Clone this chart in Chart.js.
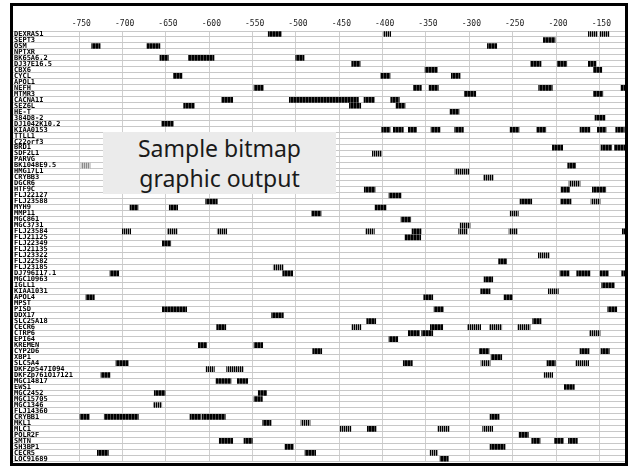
<!DOCTYPE html>
<html>
<head>
<meta charset="utf-8">
<script src="https://cdn.jsdelivr.net/npm/chart.js@4"></script>
<style>
  html, body { margin: 0; padding: 0; background: #fff; overflow: hidden; }
  #wrap { position: relative; width: 633px; height: 467px; }
  #frame {
    position: absolute; left: 10px; top: 3px; width: 618px; height: 463px;
    box-sizing: border-box; border: 3px solid #000; pointer-events: none;
  }
  #note {
    position: absolute; left: 103px; top: 132px; width: 233px; height: 62px;
    background: #ebebeb; color: #1a1a1a; text-align: center;
    font: 23px/30px "Noto Sans", sans-serif; padding-top: 1px; box-sizing: border-box;
  }
</style>
</head>
<body>
<div id="wrap">
  <canvas id="bitmapChart" width="633" height="467"></canvas>
  <div id="note">Sample bitmap<br>graphic output</div>
  <div id="frame"></div>
</div>
<script>
// rows (genes), top to bottom
const rowLabels = [
  "DEXRAS1", "SEPT3", "OSM", "NPTXR", "BK65A6.2", "DJ37E16.5", "CBX6", "CYCL",
  "APOL1", "NEFH", "MTMR3", "CACNA1I", "SEZ6L", "HE-T", "384D8-2", "DJ1042K10.2",
  "KIAA0153", "TTLL1", "C22orf3", "BRD1", "SDF2L1", "PARVG", "BK1048E9.5", "HMG17L1",
  "CRYBB3", "DGCR6", "HTF9C", "FLJ22127", "FLJ23588", "MYH9", "MMP11", "MGC861",
  "MGC3731", "FLJ23584", "FLJ21125", "FLJ22349", "FLJ21135", "FLJ23322", "FLJ22582", "FLJ23185",
  "DJ796I17.1", "MGC10963", "IGLL1", "KIAA1031", "APOL4", "MPST", "PISD", "DDX17",
  "SLC25A18", "CECR6", "CTRP6", "EPI64", "KREMEN", "CYP2D6", "XBP1", "SLC5A4",
  "DKFZp547I094", "DKFZp761O17121", "MGC14817", "EWS1", "MGC2452", "MGC15705", "MGC1346", "FLJ14360",
  "CRYBB1", "MKL1", "MLC1", "POLR2F", "SMTN", "SH3BP1", "CECR5", "LOC91689"
];

const tickValues = [-750, -700, -650, -600, -550, -500, -450, -400, -350, -300, -250, -200, -150];

// [row, from, to]
const solidMarks = [
  [0, -532, -517], [1, -214.6, -201.1],
  [2, -735.7, -726], [2, -672, -657], [2, -279.2, -268.4],
  [4, -657, -647.3], [4, -624.2, -594.6], [4, -500.3, -490.7],
  [5, -435.7, -426], [5, -229.2, -217.3], [5, -198.5, -187.6], [5, -162.7, -153.8],
  [6, -351.1, -336.9], [6, -156.9, -147.2],
  [7, -641.5, -631.5], [7, -402.2, -391.5], [7, -320.8, -310.7],
  [9, -548.4, -537.7], [9, -364.6, -355.4], [9, -346.5, -335.8], [9, -220, -204.3], [9, -125, -114.6],
  [10, -305.8, -292.6], [10, -156.9, -146],
  [11, -585.7, -573], [11, -507.7, -428], [11, -421.5, -409.6], [11, -390.7, -380.8],
  [12, -629.6, -617.3], [12, -438.4, -425.3], [12, -384.6, -374.2],
  [13, -322.3, -311.9], [14, -155, -143.5], [15, -654.9, -641.5],
  [16, -401.1, -391.5], [16, -387.7, -376.2], [16, -370.4, -360.8], [16, -344.2, -333.8],
  [16, -316.9, -306.9], [16, -253, -242.7], [16, -222.2, -211.8], [16, -172.3, -160.9],
  [16, -152.3, -142.3], [16, -131.1, -121.2],
  [19, -204.2, -192.3], [19, -148.1, -135.7], [19, -132.7, -118.4],
  [22, -186.5, -177.3],
  [26, -421.2, -408.8], [26, -194.2, -184.2], [26, -158.1, -142.6],
  [27, -392.7, -378.8],
  [28, -604.2, -590.8], [28, -241.5, -228], [28, -194.6, -182.7],
  [29, -691.5, -682.3], [29, -646.2, -636.5], [29, -408.8, -396.1],
  [30, -481.9, -471.1], [31, -378.8, -367.6],
  [33, -366.1, -355.8], [33, -123.5, -118.4],
  [34, -374.2, -356.1], [35, -654.2, -644.5], [38, -266.2, -256.9],
  [40, -714.6, -704.5], [40, -515.3, -503.8], [40, -195.4, -184.9], [40, -176.1, -160.8],
  [40, -149.2, -139.6], [40, -124.2, -114.6],
  [41, -283, -273], [42, -147.3, -132.7], [43, -286.9, -276.1],
  [44, -742.3, -732.7], [44, -352.6, -342.2], [44, -260, -250.4],
  [46, -654.2, -626.1], [46, -340.7, -330], [46, -140.3, -129.9],
  [47, -528.1, -514.6], [48, -418.4, -408], [48, -226.9, -217.3],
  [49, -591.5, -581], [49, -345, -330.7],
  [50, -370.4, -357.5], [50, -355, -342.2], [51, -392.7, -382.6],
  [52, -612.7, -603], [52, -548.4, -538.4],
  [53, -480.7, -470.3], [53, -288.5, -277.3], [53, -172.3, -161.9], [53, -148.1, -138.5],
  [54, -274.9, -262.6],
  [55, -707.7, -693.5], [55, -376.2, -365.8], [55, -210.4, -200.8],
  [57, -725, -714.6], [58, -592.3, -575], [58, -567.7, -555.7],
  [59, -190.4, -178.9], [60, -663.5, -651.1], [60, -543.5, -533.8], [61, -548.4, -538.8],
  [64, -749.2, -738.5], [64, -721.2, -681.9], [64, -622.3, -609.6], [64, -608.1, -581.6], [64, -276.1, -265.7],
  [65, -538.4, -528.8], [66, -417.7, -407.7], [67, -242.6, -231.9],
  [68, -588.5, -573], [68, -560, -550.4], [68, -228, -218.4], [68, -201.9, -191.5], [68, -185.7, -175.4],
  [69, -512.7, -503.1], [69, -276.1, -258.8],
  [70, -729.2, -716.5], [70, -489.6, -477.3], [71, -333.8, -324.3]
];

const stripedMarks = [
  [0, -399.2, -390.7], [0, -162.7, -152.3], [0, -149.2, -138.8],
  [20, -411.9, -401.1], [23, -316.5, -300], [24, -283.8, -272.3], [25, -185, -172.3],
  [28, -159.6, -149.2], [30, -253, -243.5], [32, -310.7, -299.2],
  [33, -700.4, -690.7], [33, -648.5, -637], [33, -590.8, -579.9], [33, -419.6, -409.6],
  [33, -312.3, -302.3], [33, -254.2, -244.6],
  [37, -220.4, -207.7], [39, -526.2, -514.6], [43, -208.9, -197.3],
  [49, -435.7, -425], [49, -302.3, -286.9], [49, -276.9, -262.6], [49, -244.2, -230],
  [50, -161.5, -149.2], [55, -286.5, -276.1], [55, -177.3, -162.3],
  [56, -603.8, -594.2], [56, -580, -560.8], [57, -213.8, -203.8], [62, -664.6, -654.9],
  [65, -494.2, -483.8], [66, -449.2, -436.5], [66, -336.5, -323.1], [66, -284.6, -273],
  [70, -345.4, -336.5]
];

const paleMarks = [
  [22, -748, -737.6]
];

// vertical-line fill, like the bitmap's stacked hit lines
function stripes(colors) {
  const c = document.createElement("canvas");
  c.width = colors.length;
  c.height = 1;
  const g = c.getContext("2d");
  colors.forEach((col, i) => {
    g.fillStyle = col;
    g.fillRect(i, 0, 1, 1);
  });
  return g.createPattern(c, "repeat");
}

const toPoints = (marks) => marks.map(([row, from, to]) => ({ y: rowLabels[row], x: [from, to] }));

const monoFont = '"DejaVu Sans Mono", monospace';

const ctx = document.getElementById("bitmapChart").getContext("2d");
new Chart(ctx, {
  type: "bar",
  data: {
    labels: rowLabels,
    datasets: [
      { data: toPoints(solidMarks), backgroundColor: stripes(["#000", "#000", "#444"]) },
      { data: toPoints(stripedMarks), backgroundColor: stripes(["#000", "#999"]) },
      { data: toPoints(paleMarks), backgroundColor: stripes(["#8a8a8a", "#cfcfcf"]) },
    ],
  },
  options: {
    indexAxis: "y",
    responsive: false,
    animation: false,
    grouped: false,
    barThickness: 5,
    borderWidth: 0,
    layout: { padding: { top: 6, left: 13, right: 8, bottom: 0 } },
    plugins: { legend: { display: false }, tooltip: { enabled: false } },
    scales: {
      x: {
        type: "linear",
        position: "top",
        min: -826.5,
        max: -120.4,
        afterBuildTicks: (scale) => {
          scale.ticks = tickValues.map((v) => ({ value: v }));
        },
        afterFit: (scale) => {
          scale.height = 25;
        },
        border: { display: false },
        grid: { color: "#cfcfcf", lineWidth: 1, drawTicks: false },
        ticks: {
          font: { family: monoFont, size: 8 },
          color: "#222",
          padding: 2,
          labelOffset: 2,
          maxRotation: 0,
          callback: (v) => String(v),
        },
      },
      y: {
        type: "category",
        offset: true,
        afterFit: (scale) => {
          scale.width = 0;
        },
        border: { display: false },
        grid: { color: "#c8c8c8", lineWidth: 1, drawTicks: false, offset: true },
        ticks: {
          mirror: true,
          padding: 1,
          autoSkip: false,
          font: { family: monoFont, size: 7, weight: "bold" },
          color: "#000",
        },
      },
    },
  },
});
</script>
</body>
</html>
